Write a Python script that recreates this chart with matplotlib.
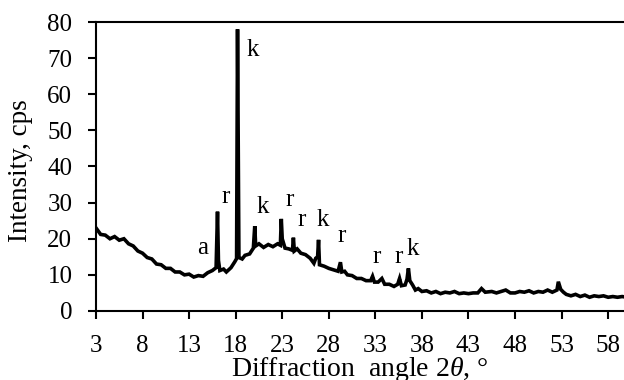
import matplotlib
matplotlib.use("Agg")
import matplotlib.pyplot as plt

plt.rcParams['font.family'] = ['Liberation Serif', 'DejaVu Serif']
plt.rcParams['mathtext.fontset'] = 'custom'
plt.rcParams['mathtext.it'] = 'Liberation Serif:italic'
plt.rcParams['mathtext.rm'] = 'Liberation Serif'

angle = [3.0, 3.5, 4.0, 4.5, 5.0, 5.5, 6.0, 6.5, 7.0, 7.5, 8.0, 8.5, 9.0, 9.5, 10.0,
         10.5, 11.0, 11.5, 12.0, 12.5, 13.0, 13.5, 14.0, 14.5, 15.0, 15.5, 15.9, 16.05,
         16.15, 16.3, 16.7, 17.0, 17.5, 17.9, 18.1, 18.2, 18.3, 18.35, 18.7, 19.0, 19.5,
         19.9, 20.05, 20.15, 20.5, 21.0, 21.5, 22.0, 22.5, 22.8, 22.9, 23.0, 23.3, 23.7,
         24.1, 24.2, 24.3, 24.6, 25.0, 25.5, 26.0, 26.4, 26.6, 26.8, 26.9, 27.0, 27.5,
         28.0, 28.5, 29.0, 29.25, 29.4, 29.7, 30.0, 30.5, 31.0, 31.5, 32.0, 32.5, 32.7,
         32.9, 33.3, 33.7, 34.0, 34.5, 35.0, 35.4, 35.6, 35.8, 36.2, 36.4, 36.55, 36.7,
         37.0, 37.3, 37.6, 38.0, 38.5, 39.0, 39.5, 40.0, 40.5, 41.0, 41.5, 42.0, 42.5,
         43.0, 43.5, 44.0, 44.4, 44.8, 45.5, 46.0, 46.5, 47.0, 47.5, 48.0, 48.5, 49.0,
         49.5, 50.0, 50.5, 51.0, 51.5, 52.0, 52.5, 52.65, 52.9, 53.2, 53.5, 54.0, 54.5,
         55.0, 55.5, 56.0, 56.5, 57.0, 57.5, 58.0, 58.5, 59.0, 59.5, 60.0]
intensity = [23.0, 21.2, 21.0, 20.0, 20.6, 19.6, 20.0, 18.6, 18.0, 16.6, 16.0, 14.8, 14.4, 13.0, 12.8,
             11.8, 11.8, 10.8, 10.8, 10.0, 10.2, 9.4, 9.8, 9.6, 10.6, 11.2, 12.0, 27.5,
             14.0, 11.2, 11.6, 10.8, 12.0, 13.6, 14.5, 78.0, 36.0, 14.8, 14.4, 15.4, 15.8,
             17.4, 23.5, 18.0, 18.6, 17.6, 18.4, 17.8, 18.6, 18.2, 25.5, 20.0, 17.4, 17.2,
             16.8, 20.3, 16.6, 17.2, 16.0, 15.6, 14.6, 13.2, 14.6, 15.0, 19.7, 12.8, 12.4,
             11.8, 11.4, 11.0, 13.5, 10.8, 11.0, 10.0, 9.8, 9.0, 9.0, 8.4, 8.4, 9.6,
             8.0, 8.0, 9.0, 7.4, 7.4, 6.8, 7.4, 9.0, 7.0, 7.2, 8.8, 11.8, 8.4,
             7.2, 5.8, 6.2, 5.4, 5.6, 5.0, 5.4, 4.8, 5.2, 5.0, 5.4, 4.8, 5.0,
             4.8, 5.0, 5.0, 6.2, 5.2, 5.4, 5.0, 5.4, 5.8, 5.0, 5.0, 5.4, 5.2,
             5.6, 5.0, 5.4, 5.2, 5.8, 5.2, 5.8, 8.1, 6.0, 5.2, 4.6, 4.2, 4.6,
             4.0, 4.4, 3.8, 4.2, 4.0, 4.2, 3.8, 4.0, 3.8, 4.0, 3.8]

peak_labels = ['a', 'r', 'k', 'k', 'r', 'r', 'k', 'r', 'r', 'r', 'k']
label_x = [14.5, 16.9, 19.8, 20.9, 23.8, 25.1, 27.35, 29.4, 33.1, 35.5, 37.0]
label_y = [17.5, 31.6, 72.3, 28.8, 30.7, 25.2, 25.2, 20.8, 15.0, 15.0, 17.1]

xticks = [3, 8, 13, 18, 23, 28, 33, 38, 43, 48, 53, 58]
yticks = [0, 10, 20, 30, 40, 50, 60, 70, 80]

fig = plt.figure(figsize=(6.24, 3.80), dpi=100)
ax = fig.add_axes([0.1538, 0.1816, 0.8462, 0.7605])
ax.plot(angle, intensity, color='black', linewidth=2.6, solid_joinstyle='miter')

for t, lx, ly in zip(peak_labels, label_x, label_y):
    ax.text(lx, ly, t, fontsize=18, ha='center', va='center')

ax.set_xlim(3, 59.7)
ax.set_ylim(0, 80)
ax.set_xticks(xticks)
ax.set_yticks(yticks)
ax.tick_params(axis='both', direction='out', length=5.5, width=1.5, labelsize=18)
ax.tick_params(axis='x', pad=12)
ax.tick_params(axis='y', pad=11.5)
for s in ['left', 'bottom', 'top']:
    ax.spines[s].set_linewidth(1.5)
ax.spines['right'].set_visible(False)

ax.set_ylabel('Intensity, cps', fontsize=19.5, labelpad=10)
ax.yaxis.label.set_y(0.486)
ax.set_xlabel(r'Diffraction  angle 2$\it{\theta}$, °', fontsize=20, labelpad=-2)

fig.savefig('out.png', dpi=100)
